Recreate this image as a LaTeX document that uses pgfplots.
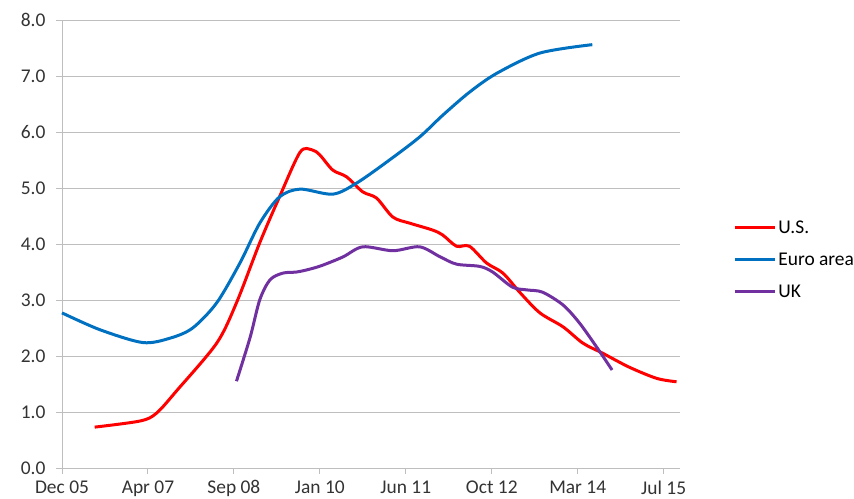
\documentclass[border=0pt]{standalone}
\usepackage{pgfplots}
\pgfplotsset{compat=1.18}
\usepackage{fontspec}
\setmainfont{Carlito}
\definecolor{usred}{RGB}{255,0,0}
\definecolor{eublue}{RGB}{0,112,192}
\definecolor{ukpurple}{RGB}{112,48,160}
\definecolor{gridgray}{RGB}{190,190,190}
\begin{document}
\begin{tikzpicture}
\begin{axis}[
  at={(0,0)}, anchor=south west,
  scale only axis,
  width=618bp, height=448bp,
  xmin=0, xmax=7.19, ymin=0, ymax=8,
  axis x line*=bottom, axis y line*=left,
  axis line style={gridgray, line width=1bp},
  xtick={0,1,2,3,4,5,6,7},
  xticklabels={Dec 05,Apr 07,Sep 08,Jan 10,Jun 11,Oct 12,Mar 14,Jul 15},
  ytick={0,1,2,3,4,5,6,7,8},
  /pgf/number format/fixed, /pgf/number format/fixed zerofill,
  /pgf/number format/precision=1, /pgf/number format/assume math mode=true,
  tick align=outside, major tick length=6bp,
  tick style={gridgray, line width=1bp},
  ymajorgrids, grid style={gridgray, line width=1bp},
  ticklabel style={font=\fontsize{19.5}{22}\selectfont, text=black!80},
  xticklabel style={yshift=-3bp},
  yticklabel style={xshift=-7bp},
  legend style={at={(1.086,0.465)}, anchor=west, draw=none, fill=none,
    inner sep=0pt, row sep=14bp, font=\fontsize{19.5}{22}\selectfont,
    nodes={inner sep=2bp}},
  legend cell align=left,
  legend image code/.code={\draw[#1] (0bp,0bp) -- (40bp,0bp);},
  clip=false,
]
\addplot[usred, line width=3bp, smooth, tension=0.5] coordinates {
(0.38,0.73) (0.91,0.84) (1.10,0.98) (1.34,1.39) (1.80,2.23) (2.03,2.95)
(2.30,4.02) (2.53,4.84) (2.77,5.64) (2.91,5.68) (3.00,5.59) (3.15,5.32)
(3.31,5.20) (3.50,4.93) (3.66,4.82) (3.85,4.48) (4.05,4.37) (4.31,4.25)
(4.43,4.16) (4.59,3.96) (4.74,3.96) (4.94,3.66) (5.13,3.48) (5.33,3.13)
(5.56,2.77) (5.83,2.52) (6.06,2.23) (6.29,2.05) (6.60,1.80) (6.92,1.60) (7.15,1.54)
};
\addlegendentry{U.S.}
\addplot[eublue, line width=3bp, smooth, tension=0.5] coordinates {
(0,2.77) (0.44,2.47) (0.94,2.24) (1.26,2.32) (1.52,2.50) (1.80,2.95)
(2.07,3.66) (2.30,4.37) (2.53,4.84) (2.77,4.98) (3.15,4.89) (3.43,5.09)
(3.81,5.50) (4.16,5.91) (4.43,6.30) (4.74,6.71) (5.06,7.05) (5.56,7.41) (6.17,7.56)
};
\addlegendentry{Euro area}
\addplot[ukpurple, line width=3bp, smooth, tension=0.5] coordinates {
(2.03,1.55) (2.19,2.34) (2.30,3.00) (2.42,3.36) (2.57,3.48) (2.73,3.50)
(2.88,3.55) (3.03,3.62) (3.27,3.77) (3.50,3.95) (3.85,3.88) (4.16,3.95)
(4.40,3.77) (4.59,3.64) (4.86,3.60) (5.01,3.50) (5.24,3.23) (5.41,3.18)
(5.59,3.14) (5.83,2.91) (6.02,2.59) (6.22,2.16) (6.40,1.75)
};
\addlegendentry{UK}
\end{axis}
\pgfresetboundingbox
\useasboundingbox (-62bp,-31bp) rectangle (792bp,468bp);
\end{tikzpicture}
\end{document}
